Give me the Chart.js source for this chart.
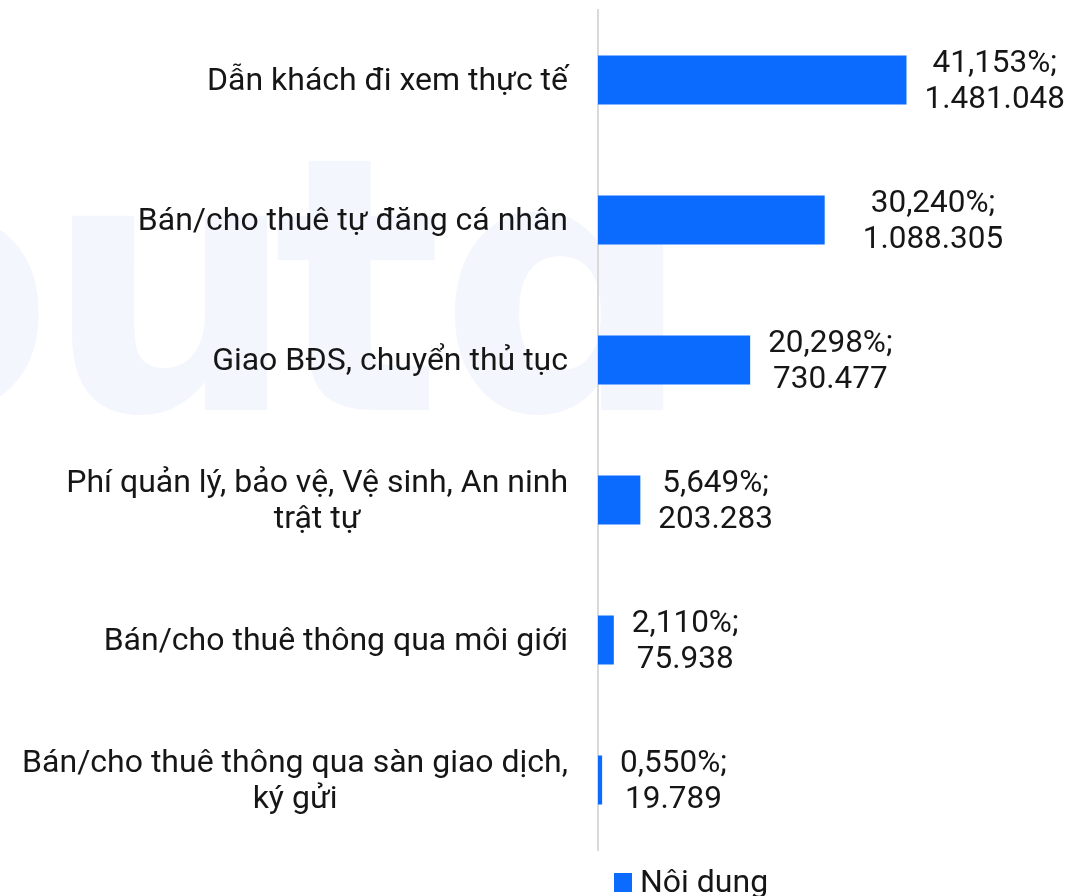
<!DOCTYPE html>
<html>
<head>
<meta charset="utf-8">
<script src="https://cdn.jsdelivr.net/npm/chart.js@4.4.1/dist/chart.umd.min.js"></script>
<style>
html,body{margin:0;padding:0;background:#fff;overflow:hidden}
#c{position:absolute;left:0;top:0}
</style>
</head>
<body>
<canvas id="c" width="1089" height="896"></canvas>
<script>
const categories = [
  ["Dẫn khách đi xem thực tế"],
  ["Bán/cho thuê tự đăng cá nhân"],
  ["Giao BĐS, chuyển thủ tục"],
  ["Phí quản lý, bảo vệ, Vệ sinh, An ninh", "trật tự"],
  ["Bán/cho thuê thông qua môi giới"],
  ["Bán/cho thuê thông qua sàn giao dịch,", "ký gửi"]
];
const percentValues = [41.153, 30.240, 20.298, 5.649, 2.110, 0.550];
const countValues = [1481048, 1088305, 730477, 203283, 75938, 19789];
const seriesName = "Nôi dung";

function fmtPct(v) { return v.toFixed(3).replace('.', ',') + '%;'; }
function fmtCount(v) { return String(v).replace(/\B(?=(\d{3})+(?!\d))/g, '.'); }

const BAR_COLOR = '#0a6bfe';
const TEXT_COLOR = '#161616';
const CAT_FONT = '32px Roboto';
const VAL_FONT = '31.5px Roboto';
const LEG_FONT = '32px Roboto';

// faint background watermark
const watermarkPlugin = {
  id: 'watermark',
  beforeDraw(chart) {
    const ctx = chart.ctx;
    ctx.save();
    ctx.fillStyle = '#f3f6fd';
    ctx.font = 'bold 355px "DejaVu Sans"';
    ctx.textAlign = 'left';
    ctx.textBaseline = 'alphabetic';
    const base = 410;
    const put = (ch, inkLeft, inkRight) => {
      const m = ctx.measureText(ch);
      let x;
      if (inkRight !== undefined) x = inkRight - m.actualBoundingBoxRight;
      else x = inkLeft + m.actualBoundingBoxLeft;
      ctx.fillText(ch, x, base);
    };
    put('o', undefined, 43);
    put('u', 72);
    put('t', 273);
    put('ɑ', 450);
    ctx.restore();
  }
};

const labelPlugin = {
  id: 'customLabels',
  afterDatasetsDraw(chart, args, opts) {
    const ctx = chart.ctx;
    const ca = chart.chartArea;
    const yScale = chart.scales.y;
    ctx.save();
    ctx.fillStyle = TEXT_COLOR;
    ctx.textBaseline = 'alphabetic';
    ctx.textAlign = 'center';
    // category labels
    ctx.font = CAT_FONT;
    categories.forEach((lines, i) => {
      const y = yScale.getPixelForValue(i);
      const w = Math.max(...lines.map(l => ctx.measureText(l).width));
      const right = ca.left - 30;
      const cx = right - w / 2;
      lines.forEach((line, k) => {
        const by = y + 9.5 + (k - (lines.length - 1) / 2) * 36;
        ctx.fillText(line, cx, by);
      });
    });
    // value labels
    ctx.font = VAL_FONT;
    const meta = chart.getDatasetMeta(0);
    meta.data.forEach((el, i) => {
      const lines = [fmtPct(percentValues[i]), fmtCount(countValues[i])];
      const w = Math.max(...lines.map(l => ctx.measureText(l).width));
      const gap = 18 + (opts.nudge[i] || 0);
      const cx = el.x + gap + w / 2;
      lines.forEach((line, k) => {
        const by = el.y + 9.5 + (k - 0.5) * 36;
        ctx.fillText(line, cx, by);
      });
    });
    // legend
    ctx.font = LEG_FONT;
    const lx = ca.left + 16, ly = ca.bottom + 42;
    ctx.fillStyle = BAR_COLOR;
    ctx.fillRect(lx, ly - 19, 18, 19);
    ctx.fillStyle = TEXT_COLOR;
    ctx.textAlign = 'left';
    ctx.fillText(chart.data.datasets[0].label, lx + 26, ly);
    ctx.restore();
  }
};

new Chart(document.getElementById('c'), {
  type: 'bar',
  data: {
    labels: categories,
    datasets: [{
      label: seriesName,
      data: percentValues,
      backgroundColor: BAR_COLOR,
      barPercentage: 0.35,
      categoryPercentage: 1.0
    }]
  },
  options: {
    indexAxis: 'y',
    responsive: false,
    animation: false,
    layout: { padding: { left: 598, right: 0, top: 10, bottom: 46 } },
    scales: {
      x: { display: false, min: 0, max: 65.5 },
      y: {
        ticks: { display: false },
        grid: { display: false, drawTicks: false, tickLength: 0 },
        border: { display: true, color: '#d9d9d9', width: 2 }
      }
    },
    plugins: {
      legend: { display: false },
      tooltip: { enabled: false },
      customLabels: { nudge: [0, 20, 0, 0, 0, 0] }
    }
  },
  plugins: [watermarkPlugin, labelPlugin]
});
</script>
</body>
</html>
